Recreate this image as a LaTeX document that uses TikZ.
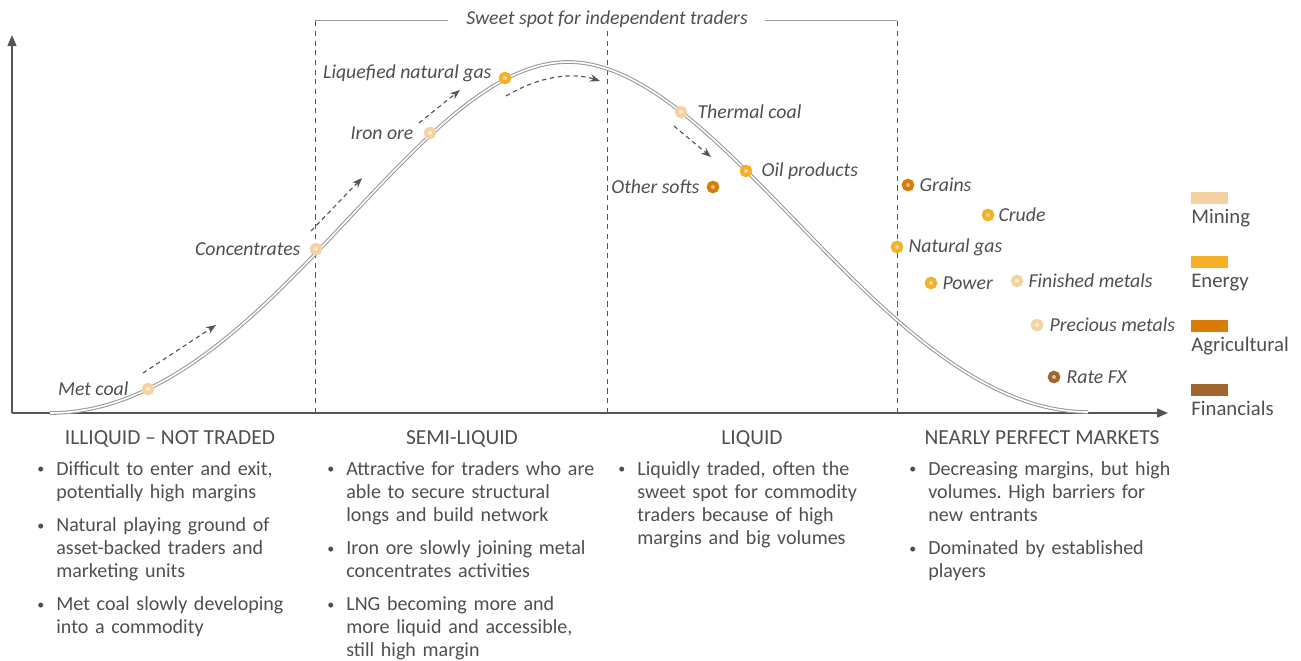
\documentclass[tikz,border=0pt]{standalone}
\usepackage{fontspec}
\setmainfont{Carlito}
\usepackage{xcolor}
\usetikzlibrary{positioning,arrows.meta}

\definecolor{mining}{HTML}{F4D3A2}
\definecolor{energy}{HTML}{F5B027}
\definecolor{agri}{HTML}{D97B04}
\definecolor{fin}{HTML}{A1662E}
\definecolor{txtgray}{HTML}{4F4F4F}
\definecolor{axisgray}{HTML}{555555}
\definecolor{curvegray}{HTML}{999999}

\frenchspacing
\newcommand{\bpt}[1]{\par\hangindent=0.38cm\hangafter=1\noindent\makebox[0.38cm][l]{\raisebox{0.6pt}{\fontsize{8pt}{8pt}\selectfont\textbullet}}#1\par\vspace{0.2cm}}

\tikzset{
    axis/.style={draw=axisgray, line width=0.85pt, -{Triangle[length=0.22cm,width=0.18cm]}},
    curve/.style={draw=curvegray, double=white, double distance=0.9pt, line width=0.6pt},
    divider/.style={draw=axisgray, line width=0.55pt, dash pattern=on 3pt off 2.5pt},
    bracket/.style={draw=curvegray, line width=0.55pt},
    flow/.style={draw=axisgray, line width=0.65pt, dash pattern=on 2.5pt off 2pt, -{Stealth[length=0.2cm,width=0.15cm]}},
    dot/.style={circle, draw=#1, fill=#1!40!white, line width=0.08cm, minimum size=0.17cm, inner sep=0pt},
    lbl/.style={font=\fontsize{11.25pt}{13pt}\selectfont\itshape, text=txtgray, inner sep=0pt},
    heading/.style={font=\fontsize{12.2pt}{14pt}\selectfont, anchor=base, text=txtgray, inner sep=0pt},
    textblock/.style={anchor=base west, text width=6cm, align=left, text=txtgray, inner sep=0pt},
    legbox/.style={fill=#1, draw=none, minimum width=0.74cm, minimum height=0.24cm, inner sep=0pt, anchor=north west},
    leglbl/.style={font=\fontsize{11.8pt}{14pt}\selectfont, anchor=base west, text=txtgray, inner sep=0pt}
}

\begin{document}
\begin{tikzpicture}[x=0.02cm, y=-0.02cm, font=\fontsize{11.4pt}{13.1pt}\selectfont]
    \useasboundingbox (0,0) rectangle (1301,660);

    \coordinate (origin) at (12,413);
    \coordinate (ytop) at (12,35);
    \coordinate (xend) at (1168,413);
    \draw[axis] (origin) -- (ytop);
    \draw[axis] (origin) -- (xend);

    \draw[divider] (315,413) -- (315,20);
    \draw[divider] (607,413) -- (607,30);
    \draw[divider] (897,413) -- (897,20);

    \node[lbl] (sweet) at (607,19) {Sweet spot for independent traders};
    \draw[bracket] (315,20) -- (448,20);
    \draw[bracket] (765,20) -- (897,20);

    \draw[curve] (50,413) .. controls (265,413) and (411,62) .. (568,62)
                          .. controls (725,62) and (886,412) .. (1088,412);

    \coordinate (f1s) at (143,373); \coordinate (f1e) at (216,325);
    \coordinate (f2s) at (311,231); \coordinate (f2e) at (362,178);
    \coordinate (f3s) at (419,123); \coordinate (f3e) at (460,90);
    \coordinate (f4s) at (506,96);  \coordinate (f4e) at (600,81);
    \coordinate (f5s) at (674,126); \coordinate (f5e) at (711,157);
    \draw[flow] (f1s) -- (f1e);
    \draw[flow] (f2s) -- (f2e);
    \draw[flow] (f3s) -- (f3e);
    \draw[flow] (f4s) .. controls (540,76) and (572,72) .. (f4e);
    \draw[flow] (f5s) -- (f5e);

    \node[dot=mining] (metcoal) at (148,389) {};
    \node[dot=mining] (conc) at (316,249) {};
    \node[dot=mining] (ironore) at (430,133) {};
    \node[dot=energy] (lng) at (505,78) {};
    \node[dot=mining] (thermal) at (681,112) {};
    \node[dot=energy] (oilprod) at (746,171) {};
    \node[dot=agri] (softs) at (713,187) {};
    \node[dot=agri] (grains) at (908,185) {};
    \node[dot=energy] (crude) at (988,215) {};
    \node[dot=energy] (natgas) at (897,247) {};
    \node[dot=energy] (power) at (931,283) {};
    \node[dot=mining] (finmet) at (1017,281) {};
    \node[dot=mining] (precious) at (1037,325) {};
    \node[dot=fin] (ratefx) at (1054,377) {};

    \node[lbl, left=0.26cm of metcoal] (metcoal-l) {Met coal};
    \node[lbl, left=0.18cm of conc] (conc-l) {Concentrates};
    \node[lbl, left=0.2cm of ironore] (ironore-l) {Iron ore};
    \node[lbl, left=0.14cm of lng, yshift=0.1cm] (lng-l) {Liquefied natural gas};
    \node[lbl, right=0.2cm of thermal] (thermal-l) {Thermal coal};
    \node[lbl, right=0.18cm of oilprod] (oilprod-l) {Oil products};
    \node[lbl, left=0.14cm of softs] (softs-l) {Other softs};
    \node[lbl, right=0.1cm of grains] (grains-l) {Grains};
    \node[lbl, right=0.08cm of crude] (crude-l) {Crude};
    \node[lbl, right=0.1cm of natgas] (natgas-l) {Natural gas};
    \node[lbl, right=0.1cm of power] (power-l) {Power};
    \node[lbl, right=0.1cm of finmet] (finmet-l) {Finished metals};
    \node[lbl, right=0.12cm of precious] (precious-l) {Precious metals};
    \node[lbl, right=0.12cm of ratefx] (ratefx-l) {Rate FX};

    \node[legbox=mining] (leg-mining) at (1191,192) {};
    \node[leglbl] (leg-mining-l) at (1191,223) {Mining};
    \node[legbox=energy] (leg-energy) at (1191,256) {};
    \node[leglbl] (leg-energy-l) at (1191,287) {Energy};
    \node[legbox=agri] (leg-agri) at (1191,320) {};
    \node[leglbl] (leg-agri-l) at (1191,351) {Agricultural};
    \node[legbox=fin] (leg-fin) at (1191,384) {};
    \node[leglbl] (leg-fin-l) at (1191,415) {Financials};

    \node[heading] (illiquid) at (170,444) {ILLIQUID – NOT TRADED};
    \node[heading] (semiliquid) at (462,444) {SEMI-LIQUID};
    \node[heading] (liquid) at (752,444) {LIQUID};
    \node[heading] (perfect) at (1042,444) {NEARLY PERFECT MARKETS};

    \node[textblock] (illiquid-t) at (37,452) {%
        \bpt{Difficult to enter and exit,\newline potentially high margins}%
        \bpt{Natural playing ground of\newline asset-backed traders and\newline marketing units}%
        \bpt{Met coal slowly developing\newline into a commodity}};
    \node[textblock] (semiliquid-t) at (327,452) {%
        \bpt{Attractive for traders who are\newline able to secure structural\newline longs and build network}%
        \bpt{Iron ore slowly joining metal\newline concentrates activities}%
        \bpt{LNG becoming more and\newline more liquid and accessible,\newline still high margin}};
    \node[textblock] (liquid-t) at (618,452) {%
        \bpt{Liquidly traded, often the\newline sweet spot for commodity\newline traders because of high\newline margins and big volumes}};
    \node[textblock] (perfect-t) at (909,452) {%
        \bpt{Decreasing margins, but high\newline volumes. High barriers for\newline new entrants}%
        \bpt{Dominated by established\newline players}};
\end{tikzpicture}
\end{document}
